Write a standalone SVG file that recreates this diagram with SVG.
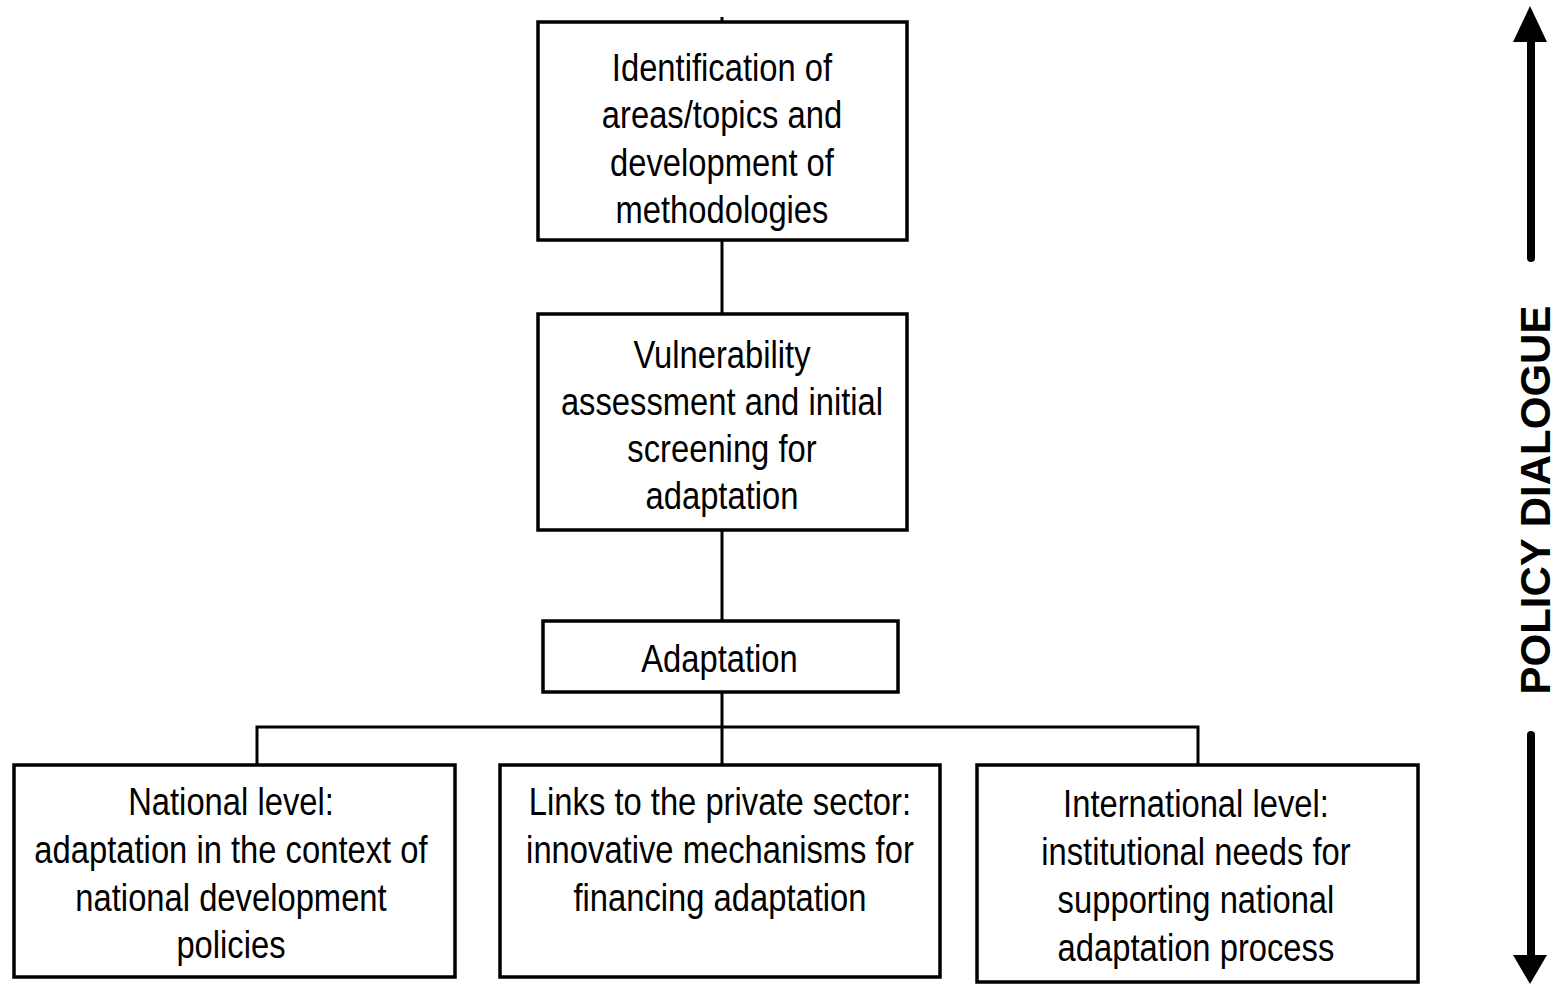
<svg xmlns="http://www.w3.org/2000/svg" width="1557" height="984" viewBox="0 0 1557 984">
<style>
.box{fill:#fff;stroke:#000;stroke-width:3.5}
.ln{stroke:#000;stroke-width:3;fill:none}
.t{font-family:"Liberation Sans",Arial,sans-serif;font-size:39px;fill:#000;text-anchor:middle}
.pd{font-family:"Liberation Sans",Arial,sans-serif;font-size:42px;font-weight:bold;fill:#000;text-anchor:middle}
</style>
<rect width="1557" height="984" fill="#fff"/>
<g id="connectors">
<line class="ln" x1="722" y1="17" x2="722" y2="22" stroke-width="2"/>
<line class="ln" x1="722" y1="240" x2="722" y2="314"/>
<line class="ln" x1="722" y1="530" x2="722" y2="621"/>
<line class="ln" x1="722" y1="692" x2="722" y2="765"/>
<polyline class="ln" points="257,765 257,727 1198,727 1198,765"/>
</g>
<g id="n1">
<rect class="box" x="538" y="22" width="369" height="218"/>
<g transform="scale(0.84 1)">
<text class="t" x="859.5" y="81">Identification of</text>
<text class="t" x="859.5" y="128.5">areas/topics and</text>
<text class="t" x="859.5" y="176">development of</text>
<text class="t" x="859.5" y="223.5">methodologies</text>
</g>
</g>
<g id="n2">
<rect class="box" x="538" y="314" width="369" height="216"/>
<g transform="scale(0.84 1)">
<text class="t" x="859.5" y="368">Vulnerability</text>
<text class="t" x="859.5" y="415">assessment and initial</text>
<text class="t" x="859.5" y="462">screening for</text>
<text class="t" x="859.5" y="509">adaptation</text>
</g>
</g>
<g id="n3">
<rect class="box" x="543" y="621" width="355" height="71"/>
<g transform="scale(0.84 1)">
<text class="t" x="856.5" y="672">Adaptation</text>
</g>
</g>
<g id="n4">
<rect class="box" x="14" y="765" width="441" height="212"/>
<g transform="scale(0.84 1)">
<text class="t" x="275" y="815">National level:</text>
<text class="t" x="275" y="863">adaptation in the context of</text>
<text class="t" x="275" y="911">national development</text>
<text class="t" x="275" y="958">policies</text>
</g>
</g>
<g id="n5">
<rect class="box" x="500" y="765" width="440" height="212"/>
<g transform="scale(0.84 1)">
<text class="t" x="857.1" y="815">Links to the private sector:</text>
<text class="t" x="857.1" y="863">innovative mechanisms for</text>
<text class="t" x="857.1" y="911">financing adaptation</text>
</g>
</g>
<g id="n6">
<rect class="box" x="977" y="765" width="441" height="217"/>
<g transform="scale(0.84 1)">
<text class="t" x="1423.8" y="817">International level:</text>
<text class="t" x="1423.8" y="865">institutional needs for</text>
<text class="t" x="1423.8" y="913">supporting national</text>
<text class="t" x="1423.8" y="961">adaptation process</text>
</g>
</g>
<g id="policy-dialogue">
<line x1="1531" y1="40" x2="1531" y2="258" stroke="#000" stroke-width="8" stroke-linecap="round"/>
<polygon points="1530,6 1513,42 1547,42" fill="#000"/>
<line x1="1531" y1="735" x2="1531" y2="957" stroke="#000" stroke-width="8" stroke-linecap="round"/>
<polygon points="1513,955 1547,955 1530,984" fill="#000"/>
<text class="pd" transform="translate(1550 500) rotate(-90)">POLICY DIALOGUE</text>
</g>
</svg>
